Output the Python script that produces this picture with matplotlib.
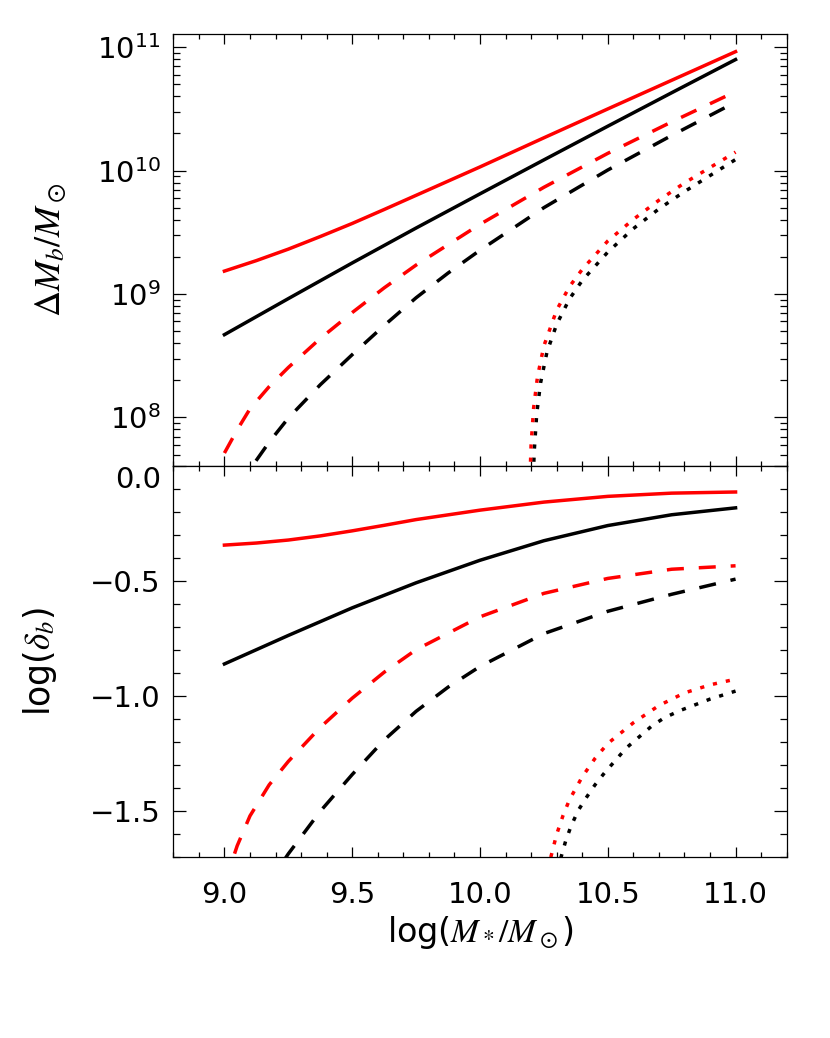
import numpy as np
import matplotlib
matplotlib.use("Agg")
import matplotlib.pyplot as plt
from matplotlib.ticker import MultipleLocator, LogLocator, NullFormatter

plt.rcParams['font.family'] = ['DejaVu Sans']
plt.rcParams['mathtext.fontset'] = 'stix'

"""# DATA (read off the picture)"""

# top panel: log10(Delta M_b / Msun), bottom panel: log(delta_b)

# solid lines
x_red_solid = [9.0, 9.125, 9.25, 9.375, 9.5, 9.625, 9.75, 10.0, 10.25, 10.5, 10.75, 11.0]
top_red_solid = [9.186, 9.271, 9.364, 9.466, 9.572, 9.685, 9.80, 10.03, 10.266, 10.5, 10.732, 10.964]
bot_red_solid = [-0.342, -0.333, -0.320, -0.302, -0.280, -0.256, -0.231, -0.19, -0.155, -0.13, -0.116, -0.111]

x_black_solid = [9.0, 9.25, 9.5, 9.75, 10.0, 10.25, 10.5, 10.75, 11.0]
top_black_solid = [8.671, 8.963, 9.252, 9.535, 9.812, 10.087, 10.36, 10.631, 10.9]
bot_black_solid = [-0.859, -0.735, -0.615, -0.506, -0.408, -0.323, -0.257, -0.21, -0.18]

# dashed lines
x_red_dash = [9.0, 9.05, 9.1, 9.175, 9.25, 9.375, 9.5, 9.625, 9.75, 10.0, 10.25, 10.5, 10.75, 11.0]
top_red_dash = [7.712, 7.90, 8.07, 8.25, 8.405, 8.64, 8.85, 9.05, 9.235, 9.565, 9.865, 10.14, 10.395, 10.64]
bot_red_dash = [-1.816, -1.65, -1.52, -1.385, -1.283, -1.135, -1.008, -0.895, -0.797, -0.654, -0.552,
                -0.487, -0.447, -0.432]

x_black_dash = [9.0, 9.1, 9.175, 9.25, 9.375, 9.5, 9.625, 9.75, 9.875, 10.0, 10.25, 10.5, 10.75, 11.0]
top_black_dash = [7.2, 7.58, 7.80, 7.995, 8.265, 8.509, 8.745, 8.97, 9.17, 9.355, 9.70, 10.005, 10.285, 10.555]
bot_black_dash = [-2.2, -1.96, -1.81, -1.685, -1.50, -1.34, -1.19, -1.065, -0.96, -0.87, -0.727,
                  -0.63, -0.556, -0.49]

# dotted lines, top panel
x_top_red_dot = [10.191, 10.195, 10.2, 10.21, 10.225, 10.25, 10.3, 10.35, 10.4, 10.5,
                 10.6, 10.7, 10.8, 10.9, 11.0]
top_red_dot = [7.0, 7.47, 7.78, 8.08, 8.33, 8.58, 8.87, 9.06, 9.2, 9.43,
               9.605, 9.76, 9.9, 10.025, 10.15]
x_top_black_dot = [10.202, 10.207, 10.212, 10.222, 10.237, 10.262, 10.3, 10.35, 10.4, 10.5,
                   10.6, 10.7, 10.8, 10.9, 11.0]
top_black_dot = [7.0, 7.42, 7.72, 8.03, 8.28, 8.53, 8.755, 8.96, 9.11, 9.34,
                 9.53, 9.69, 9.83, 9.96, 10.09]

# dotted lines, bottom panel
x_bot_red_dot = [10.265, 10.277, 10.3, 10.325, 10.35, 10.4, 10.45, 10.5, 10.6, 10.7, 10.8, 10.9, 11.0]
bot_red_dot = [-1.755, -1.70, -1.60, -1.518, -1.45, -1.35, -1.27, -1.205, -1.115, -1.04, -0.985,
               -0.95, -0.925]
x_bot_black_dot = [10.305, 10.317, 10.335, 10.356, 10.385, 10.415, 10.45, 10.487, 10.572, 10.67,
                   10.72, 10.782, 10.9, 11.0]
bot_black_dot = [-1.76, -1.70, -1.63, -1.565, -1.495, -1.442, -1.385, -1.333, -1.225, -1.131,
                 -1.094, -1.062, -1.012, -0.977]

x_ticks = [9.0, 9.5, 10.0, 10.5, 11.0]
x_ticklabels = ['9.0', '9.5', '10.0', '10.5', '11.0']
bot_yticks = [0.0, -0.5, -1.0, -1.5]
bot_yticklabels = ['0.0', '\u22120.5', '\u22121.0', '\u22121.5']

"""# STYLE"""

LW = 2.5
DASH = (0, (4.9, 4.3))
DOT = (0, (1.2, 2.6))
RED = '#ff0000'
FS = 21

fig = plt.figure(figsize=(8.3, 10.38), dpi=100)
ax1 = fig.add_axes([0.2088, 0.5506, 0.739, 0.4164])
ax2 = fig.add_axes([0.2088, 0.1741, 0.739, 0.3765])

# top panel (black first, red drawn over it)
ax1.plot(x_black_solid, 10**np.array(top_black_solid), color='k', lw=LW)
ax1.plot(x_black_dash, 10**np.array(top_black_dash), color='k', lw=LW, ls=DASH)
ax1.plot(x_top_black_dot, 10**np.array(top_black_dot), color='k', lw=LW, ls=DOT)
ax1.plot(x_red_solid, 10**np.array(top_red_solid), color=RED, lw=LW)
ax1.plot(x_red_dash, 10**np.array(top_red_dash), color=RED, lw=LW, ls=DASH)
ax1.plot(x_top_red_dot, 10**np.array(top_red_dot), color=RED, lw=LW, ls=DOT)

ax1.set_yscale('log')
ax1.set_ylim(10**7.603, 10**11.105)
ax1.yaxis.set_major_locator(LogLocator(base=10, numticks=10))
ax1.yaxis.set_minor_locator(LogLocator(base=10, subs=np.arange(2, 10), numticks=20))
ax1.yaxis.set_minor_formatter(NullFormatter())
ax1.set_ylabel(r'$\Delta M_b/M_\odot$', fontsize=26, labelpad=20)

# bottom panel
ax2.plot(x_black_solid, bot_black_solid, color='k', lw=LW)
ax2.plot(x_black_dash, bot_black_dash, color='k', lw=LW, ls=DASH)
ax2.plot(x_bot_black_dot, bot_black_dot, color='k', lw=LW, ls=DOT)
ax2.plot(x_red_solid, bot_red_solid, color=RED, lw=LW)
ax2.plot(x_red_dash, bot_red_dash, color=RED, lw=LW, ls=DASH)
ax2.plot(x_bot_red_dot, bot_red_dot, color=RED, lw=LW, ls=DOT)

ax2.set_ylim(-1.7, 0.0)
ax2.set_yticks(bot_yticks, bot_yticklabels)
ax2.yaxis.set_minor_locator(MultipleLocator(0.1))
ax2.set_ylabel(r'log($\delta_b$)', fontsize=25, labelpad=22)
ax2.set_xlabel(r'log($M_*/M_\odot$)', fontsize=24, labelpad=4)

for ax in (ax1, ax2):
    ax.set_xlim(8.8, 11.2)
    ax.set_xticks(x_ticks, x_ticklabels)
    ax.xaxis.set_minor_locator(MultipleLocator(0.1))
    ax.tick_params(axis='both', which='both', direction='in', top=True, right=True,
                   width=0.9, labelsize=FS)
    ax.tick_params(axis='x', which='major', length=7.5, pad=17)
    ax.tick_params(axis='x', which='minor', length=3.8)
    ax.tick_params(axis='y', which='major', length=9.5, pad=9)
    ax.tick_params(axis='y', which='minor', length=4.7)
    for sp in ax.spines.values():
        sp.set_linewidth(0.9)

ax1.tick_params(axis='x', labelbottom=False)

# IDL pushes the top label of the lower panel down below the shared edge
ax2.get_yticklabels()[0].set_va('top')

fig.savefig('out.png', dpi=100)
